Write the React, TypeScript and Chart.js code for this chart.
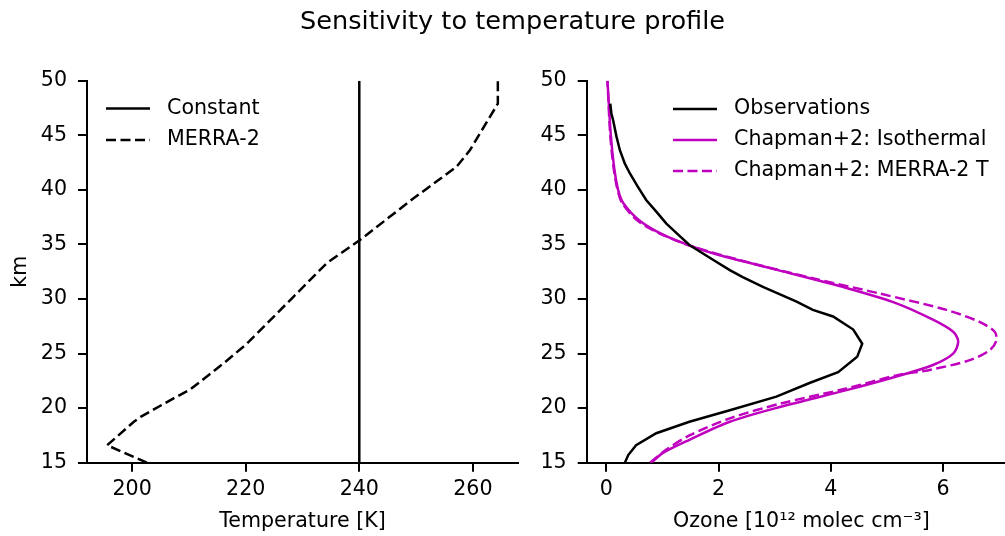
import React, { useEffect, useRef } from 'react';
import { Chart, registerables } from 'chart.js';

Chart.register(...registerables);

const FONT = "'DejaVu Sans', 'Noto Sans', sans-serif";
const MAGENTA = '#bf00bf';
const BLACK = '#000000';
const FS = 20.6;

// ---- tick labels ----
const altTicks = [15, 20, 25, 30, 35, 40, 45, 50];
const tempTicks = [200, 220, 240, 260];
const ozoneTicks = [0, 2, 4, 6];

// ---- left panel: temperature profiles ----
const constAlt = [15, 50];
const constTemp = [240, 240];

const merraAlt = [15.0, 16.6, 18.75, 19.2, 20.9, 21.7, 24.1, 25.9, 30.2, 33.3, 35.4, 39.2, 42.1, 43.65, 47.9, 50.0];
const merraTemp = [202.6, 195.6, 200.3, 201.5, 207.3, 210.2, 216.1, 220.2, 228.4, 234.3, 240.1, 249.5, 257.1, 259.5, 264.4, 264.4];

// ---- right panel: ozone profiles (10^12 molec cm^-3) ----
const obsAlt = [15.0, 15.7, 16.6, 17.7, 18.75, 19.8, 21.05, 22.3, 23.3, 24.7, 25.9, 27.2, 28.4, 29.0, 29.75, 31.1, 32.0, 32.65, 33.6, 34.95, 35.9, 36.9, 38.0, 39.07, 40.3, 41.5, 42.4, 43.65, 44.9, 46.4, 47.0, 47.9];
const obsOzone = [0.33, 0.39, 0.53, 0.89, 1.48, 2.20, 3.03, 3.62, 4.13, 4.47, 4.56, 4.40, 4.04, 3.68, 3.39, 2.79, 2.43, 2.20, 1.90, 1.48, 1.28, 1.07, 0.89, 0.71, 0.56, 0.42, 0.33, 0.24, 0.18, 0.12, 0.09, 0.07];

const isoAlt = [15.0, 15.9, 17.1, 18.75, 20.1, 21.65, 22.9, 23.95, 25.0, 26.1, 27.0, 28.1, 29.6, 31.0, 32.6, 34.0, 34.8, 35.9, 37.2, 38.8, 40.0, 42.0, 45.0, 50.0];
const isoOzone = [0.80, 1.01, 1.48, 2.20, 3.09, 4.28, 5.17, 5.82, 6.18, 6.27, 6.18, 5.82, 5.17, 4.28, 3.09, 2.02, 1.54, 1.01, 0.59, 0.30, 0.21, 0.14, 0.08, 0.02];

const merAlt = [15.0, 16.2, 17.5, 19.06, 20.4, 21.8, 23.0, 23.5, 24.4, 25.3, 26.2, 27.0, 27.9, 29.0, 30.5, 31.9, 33.4, 34.8, 36.0, 37.2, 38.8, 40.0, 42.0, 45.0, 50.0];
const merOzone = [0.78, 1.07, 1.48, 2.20, 3.09, 4.28, 5.17, 5.76, 6.48, 6.83, 6.95, 6.92, 6.65, 6.06, 4.87, 3.68, 2.50, 1.54, 0.95, 0.55, 0.28, 0.20, 0.13, 0.07, 0.02];

const toPoints = (xs: number[], ys: number[]) => xs.map((x, i) => ({ x, y: ys[i] }));

const legendPlugin = {
  id: 'mplLegend',
  afterDatasetsDraw(chart: any, _args: any, opts: any) {
    const { ctx, chartArea } = chart;
    ctx.save();
    chart.data.datasets.forEach((ds: any, i: number) => {
      const y = chartArea.top + opts.top + i * opts.row;
      const x = chartArea.left + opts.left;
      ctx.beginPath();
      ctx.setLineDash(ds.borderDash || []);
      ctx.strokeStyle = ds.borderColor;
      ctx.lineWidth = ds.borderWidth;
      ctx.moveTo(x, y);
      ctx.lineTo(x + 44, y);
      ctx.stroke();
      ctx.setLineDash([]);
      ctx.fillStyle = BLACK;
      ctx.font = `${FS}px ${FONT}`;
      ctx.textAlign = 'left';
      ctx.textBaseline = 'middle';
      ctx.fillText(ds.label, x + 61, y);
    });
    ctx.restore();
  },
};

const axisCommon = (ticks: number[]) => ({
  type: 'linear' as const,
  afterBuildTicks: (s: any) => {
    s.ticks = ticks.map((v) => ({ value: v }));
  },
  grid: {
    display: true,
    drawOnChartArea: false,
    drawTicks: true,
    tickLength: 9,
    tickWidth: 2,
    lineWidth: 2,
    color: BLACK,
  },
  border: { display: true, color: BLACK, width: 2 },
  ticks: {
    color: BLACK,
    font: { family: FONT, size: FS },
    autoSkip: false,
    maxRotation: 0,
  },
});

function makeOptions(cfg: {
  xMin: number; xMax: number; xTicks: number[]; xTitle: string; yAxisWidth: number;
  padRight: number; yTitle?: string; legend: { left: number; top: number; row: number };
}) {
  const xAxis: any = axisCommon(cfg.xTicks);
  xAxis.min = cfg.xMin;
  xAxis.max = cfg.xMax;
  xAxis.position = 'bottom';
  xAxis.ticks.padding = 6;
  xAxis.afterFit = (s: any) => { s.height = 536 - 462.7; };
  xAxis.title = {
    display: true,
    text: cfg.xTitle,
    color: BLACK,
    font: { family: FONT, size: FS },
    padding: { top: 0, bottom: 1.5 },
  };
  const yAxis: any = axisCommon(altTicks);
  yAxis.min = 15;
  yAxis.max = 50;
  yAxis.position = 'left';
  yAxis.ticks.padding = 11;
  yAxis.afterFit = (s: any) => { s.width = cfg.yAxisWidth; };
  if (cfg.yTitle) {
    yAxis.title = {
      display: true,
      text: cfg.yTitle,
      color: BLACK,
      font: { family: FONT, size: FS },
      padding: { top: 8, bottom: 0 },
    };
  }
  return {
    responsive: false,
    maintainAspectRatio: false,
    animation: false as const,
    devicePixelRatio: 1,
    layout: { padding: { left: 0, right: cfg.padRight, top: 80.7, bottom: 0 } },
    plugins: {
      legend: { display: false },
      tooltip: { enabled: false },
      title: { display: false },
      mplLegend: cfg.legend,
    },
    elements: { point: { radius: 0 } },
    scales: { x: xAxis, y: yAxis },
  };
}

function LeftPanel() {
  const ref = useRef<HTMLCanvasElement | null>(null);
  useEffect(() => {
    if (!ref.current) return;
    const chart = new Chart(ref.current, {
      type: 'scatter',
      data: {
        datasets: [
          {
            label: 'Constant',
            data: toPoints(constTemp, constAlt),
            showLine: true,
            borderColor: BLACK,
            backgroundColor: BLACK,
            borderWidth: 2.5,
            pointRadius: 0,
          },
          {
            label: 'MERRA-2',
            data: toPoints(merraTemp, merraAlt),
            showLine: true,
            borderColor: BLACK,
            backgroundColor: BLACK,
            borderWidth: 2.5,
            borderDash: [10, 4.5],
            pointRadius: 0,
          },
        ],
      },
      options: makeOptions({
        xMin: 192.05, xMax: 267.95, xTicks: tempTicks, xTitle: 'Temperature [K]',
        yAxisWidth: 87, padRight: 22, yTitle: 'km',
        legend: { left: 19, top: 27.8, row: 31.5 },
      }) as any,
      plugins: [legendPlugin],
    });
    return () => chart.destroy();
  }, []);
  return <canvas ref={ref} width={540} height={536} style={{ position: 'absolute', left: 0, top: 0 }} />;
}

function RightPanel() {
  const ref = useRef<HTMLCanvasElement | null>(null);
  useEffect(() => {
    if (!ref.current) return;
    const chart = new Chart(ref.current, {
      type: 'scatter',
      data: {
        datasets: [
          {
            label: 'Observations',
            data: toPoints(obsOzone, obsAlt),
            showLine: true,
            borderColor: BLACK,
            backgroundColor: BLACK,
            borderWidth: 2.5,
            pointRadius: 0,
            tension: 0,
          },
          {
            label: 'Chapman+2: Isothermal',
            data: toPoints(isoOzone, isoAlt),
            showLine: true,
            borderColor: MAGENTA,
            backgroundColor: MAGENTA,
            borderWidth: 2.5,
            pointRadius: 0,
            tension: 0.3,
          },
          {
            label: 'Chapman+2: MERRA-2 T',
            data: toPoints(merOzone, merAlt),
            showLine: true,
            borderColor: MAGENTA,
            backgroundColor: MAGENTA,
            borderWidth: 2.5,
            borderDash: [10, 4.5],
            pointRadius: 0,
            tension: 0.3,
          },
        ],
      },
      options: makeOptions({
        xMin: -0.35, xMax: 7.3, xTicks: ozoneTicks, xTitle: 'Ozone [10¹² molec cm⁻³]',
        yAxisWidth: 46.7, padRight: 0,
        legend: { left: 86.3, top: 28.3, row: 31 },
      }) as any,
      plugins: [legendPlugin],
    });
    return () => chart.destroy();
  }, []);
  return <canvas ref={ref} width={476} height={536} style={{ position: 'absolute', left: 540, top: 0 }} />;
}

export default function App() {
  return (
    <div
      style={{
        position: 'absolute',
        left: 0,
        top: 0,
        width: 1005,
        height: 536,
        overflow: 'hidden',
        background: '#ffffff',
      }}
    >
      <LeftPanel />
      <RightPanel />
      <div
        style={{
          position: 'absolute',
          left: 10,
          top: 7,
          width: 1005,
          textAlign: 'center',
          fontFamily: FONT,
          fontSize: 25.6,
          lineHeight: '26px',
          color: BLACK,
          whiteSpace: 'nowrap',
        }}
      >
        Sensitivity to temperature profile
      </div>
    </div>
  );
}
